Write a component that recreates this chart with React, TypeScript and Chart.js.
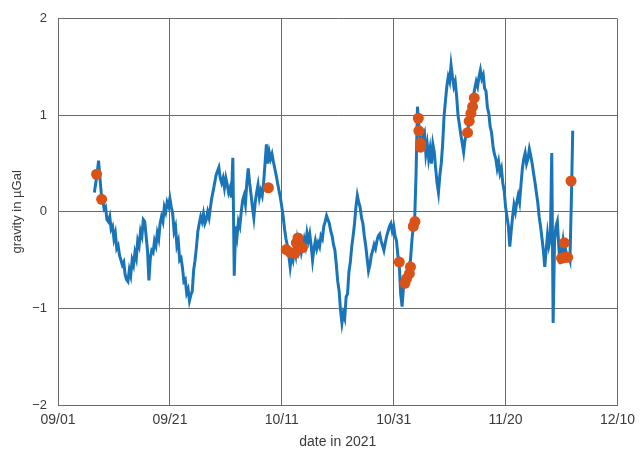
import React, { useEffect, useRef } from "react";
import { Chart, registerables } from "chart.js";

Chart.register(...registerables);

// Sampling grid of the gravity record (days after 09/01/2021)
const START_DAY = 6.5;
const STEP = 0.25;

// gravity residual in µGal (one value per 0.25 day)
const gravity = [
  0.20, 0.30,
  0.40, 0.53, 0.35, 0.18,
  0.12, 0.03, 0.05, -0.08,
  -0.10, -0.05, -0.18, -0.15,
  -0.28, -0.22, -0.38, -0.35,
  -0.45, -0.50, -0.55, -0.52,
  -0.65, -0.70, -0.72, -0.60,
  -0.66, -0.50, -0.55, -0.42,
  -0.48, -0.30, -0.35, -0.20,
  -0.25, -0.08, -0.10, -0.25,
  -0.40, -0.71, -0.48, -0.40,
  -0.42, -0.30, -0.35, -0.22,
  -0.28, -0.12, -0.05, -0.10,
  0.05, 0.00, 0.10, 0.06,
  0.14, 0.05, -0.02, -0.20,
  -0.15, -0.35, -0.30, -0.50,
  -0.48, -0.58, -0.72, -0.70,
  -0.84, -0.80, -0.92, -0.86,
  -0.82, -0.60, -0.50, -0.36,
  -0.20, -0.12, -0.05, -0.10,
  -0.02, -0.12, -0.08, 0.00,
  -0.06, 0.05, 0.15, 0.22,
  0.30, 0.38, 0.42, 0.46,
  0.35, 0.30, 0.35, 0.25,
  0.35, 0.28, 0.20, 0.25,
  0.15, 0.56, -0.66, -0.15,
  -0.25, -0.10, -0.15, 0.00,
  0.12, 0.17, 0.08, 0.30,
  0.45, 0.30, 0.18, 0.05,
  -0.06, 0.10, 0.20, 0.28,
  0.15, 0.22, 0.17, 0.30,
  0.50, 0.70, 0.50, 0.62,
  0.55, 0.60, 0.52, 0.45,
  0.38, 0.30, 0.22, 0.15,
  0.05, -0.05, -0.18, -0.28,
  -0.35, -0.45, -0.57, -0.45,
  -0.50, -0.38, -0.45, -0.30,
  -0.40, -0.32, -0.42, -0.35,
  -0.28, -0.35, -0.22, -0.30,
  -0.23, -0.35, -0.50, -0.38,
  -0.30, -0.38, -0.32, -0.36,
  -0.25, -0.28, -0.15, -0.10,
  -0.04, -0.08, -0.12, -0.20,
  -0.25, -0.34, -0.40, -0.55,
  -0.72, -0.82, -1.02, -1.15,
  -1.05, -1.10, -0.88, -0.85,
  -0.62, -0.52, -0.36, -0.25,
  -0.12, 0.05, 0.17, 0.10,
  0.05, -0.06, -0.12, -0.25,
  -0.35, -0.48, -0.61, -0.55,
  -0.45, -0.40, -0.34, -0.38,
  -0.30, -0.25, -0.23, -0.30,
  -0.35, -0.40, -0.32, -0.25,
  -0.20, -0.15, -0.12, -0.20,
  -0.15, -0.25, -0.30, -0.45,
  -0.55, -0.85, -0.98, -0.78,
  -0.72, -0.66, -0.62, -0.55,
  -0.50, -0.30, -0.15, -0.08,
  0.40, 1.09, 0.90, 0.75,
  0.70, 0.78, 0.82, 0.60,
  0.70, 0.55, 0.65, 0.50,
  0.70, 0.62, 0.45, 0.30,
  0.20, 0.38, 0.50, 0.70,
  0.99, 1.15, 1.30, 1.40,
  1.35, 1.52, 1.40, 1.30,
  1.35, 1.20, 1.00, 0.90,
  0.80, 0.71, 0.62, 0.75,
  0.80, 0.85, 0.95, 1.05,
  1.10, 1.20, 1.28, 1.35,
  1.30, 1.40, 1.47, 1.38,
  1.42, 1.28, 1.25, 1.08,
  1.02, 0.88, 0.82, 0.68,
  0.60, 0.55, 0.45, 0.52,
  0.40, 0.45, 0.30, 0.22,
  0.05, -0.05, -0.15, -0.36,
  -0.20, -0.05, 0.07, 0.00,
  0.10, 0.17, 0.10, 0.28,
  0.45, 0.55, 0.61, 0.50,
  0.55, 0.65, 0.58, 0.50,
  0.40, 0.31, 0.20, 0.10,
  -0.05, -0.15, -0.27, -0.40,
  -0.57, -0.40, -0.23, -0.35,
  -0.28, 0.61, -1.15, -0.30,
  -0.15, -0.10, -0.35, -0.54,
  -0.40, -0.30, -0.45, -0.40,
  -0.48, -0.45, -0.50, 0.10,
  0.84,
];

// highlighted measurements (orange dots)
const dotDays = [
  6.9, 7.8, 37.6,
  40.8, 41.5, 42.3, 42.6, 42.9, 43.3, 43.7,
  61.0, 62.0, 62.3, 62.8, 63.0, 63.5, 63.8,
  64.4, 64.5, 64.8, 64.8,
  73.2, 73.5, 73.8, 74.1, 74.4,
  90.0, 90.5, 90.6, 91.1, 91.7,
];
const dotValues = [
  0.39, 0.13, 0.25,
  -0.39, -0.42, -0.43, -0.32, -0.27, -0.36, -0.37,
  -0.52, -0.74, -0.69, -0.64, -0.57, -0.15, -0.10,
  0.97, 0.84, 0.71, 0.67,
  0.82, 0.94, 1.02, 1.09, 1.18,
  -0.48, -0.32, -0.47, -0.47, 0.32,
];

const xTickValues = [0, 20, 40, 60, 80, 100];
const xTickLabels = ["09/01", "09/21", "10/11", "10/31", "11/20", "12/10"];
const yTickValues = [-2, -1, 0, 1, 2];

const FONT = "'Liberation Sans', Arial, Helvetica, sans-serif";
const TEXT = "#3a3a3a";
const GRID = "#6a6a6a";

export default function App() {
  const ref = useRef<HTMLCanvasElement | null>(null);

  useEffect(() => {
    document.body.style.margin = "0";
    const canvas = ref.current;
    if (!canvas) return;
    const chart = new Chart(canvas, {
      type: "scatter",
      data: {
        datasets: [
          {
            label: "selected",
            data: dotDays.map((d, i) => ({ x: d, y: dotValues[i] })),
            backgroundColor: "#D95319",
            borderColor: "#D95319",
            pointRadius: 5.5,
            pointBorderWidth: 0,
            showLine: false,
            order: 0,
          } as any,
          {
            label: "gravity",
            data: gravity.map((v, i) => ({ x: START_DAY + i * STEP, y: v })),
            borderColor: "#1a74b8",
            backgroundColor: "#1a74b8",
            borderWidth: 3,
            pointRadius: 0,
            showLine: true,
            fill: false,
            tension: 0,
            order: 1,
          } as any,
        ],
      },
      options: {
        animation: false,
        responsive: false,
        devicePixelRatio: 1,
        layout: { padding: { top: 11, right: 19, left: 0, bottom: 0 } },
        plugins: {
          legend: { display: false },
          tooltip: { enabled: false },
        },
        scales: {
          x: {
            type: "linear",
            min: 0,
            max: 100,
            afterBuildTicks: (s: any) => {
              s.ticks = xTickValues.map((v) => ({ value: v }));
            },
            afterFit: (s: any) => {
              s.height = 52;
            },
            ticks: {
              callback: (_v: any, i: number) => xTickLabels[i],
              color: TEXT,
              font: { family: FONT, size: 14 },
              padding: 7,
              maxRotation: 0,
              autoSkip: false,
            },
            grid: { color: GRID, lineWidth: 1, drawTicks: false },
            border: { color: GRID, width: 1 },
            title: {
              display: true,
              text: "date in 2021",
              color: TEXT,
              font: { family: FONT, size: 14 },
              padding: { top: 0, bottom: 6 },
            },
          },
          y: {
            type: "linear",
            min: -2,
            max: 2,
            afterBuildTicks: (s: any) => {
              s.ticks = yTickValues.map((v) => ({ value: v }));
            },
            afterFit: (s: any) => {
              s.width = 58;
            },
            ticks: {
              callback: (v: any) => (v < 0 ? "\u2212" + Math.abs(v) : String(v)),
              color: TEXT,
              font: { family: FONT, size: 13 },
              padding: 11,
            },
            grid: { color: GRID, lineWidth: 1, drawTicks: false },
            border: { color: GRID, width: 1 },
            title: {
              display: true,
              text: "gravity in µGal",
              color: TEXT,
              font: { family: FONT, size: 13 },
              padding: { top: 10, bottom: 0 },
            },
          },
        },
      },
    });
    return () => chart.destroy();
  }, []);

  return (
    <div style={{ position: "fixed", left: 0, top: 0, width: 642, height: 457, background: "#fff" }}>
      <canvas ref={ref} width={642} height={457} style={{ display: "block" }} />
    </div>
  );
}
